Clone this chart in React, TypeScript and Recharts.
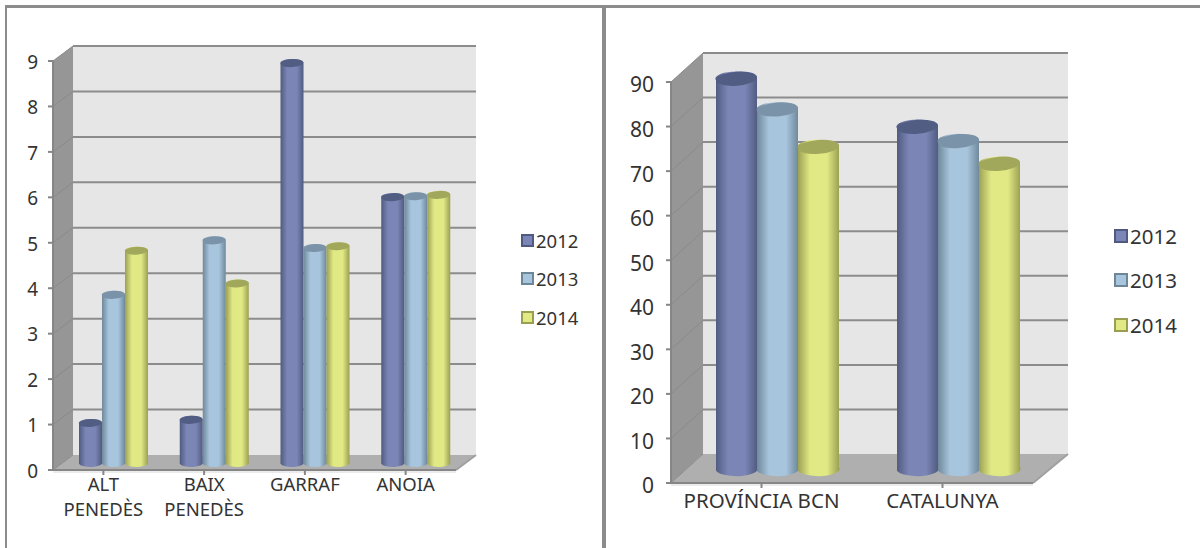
import React from "react";
import { BarChart, Bar, XAxis, YAxis, Customized } from "recharts";

const seriesNames = ["2012", "2013", "2014"];
const leftCategories = ["ALT\nPENEDÈS", "BAIX\nPENEDÈS", "GARRAF", "ANOIA"];
const left2012 = [0.88, 0.95, 8.8, 5.85];
const left2013 = [3.7, 4.9, 4.73, 5.87];
const left2014 = [4.67, 3.95, 4.77, 5.9];
const leftTicks = [0, 1, 2, 3, 4, 5, 6, 7, 8, 9];

const rightCategories = ["PROVÍNCIA BCN", "CATALUNYA"];
const right2012 = [87.6, 76.8];
const right2013 = [80.7, 73.6];
const right2014 = [72.3, 68.5];
const rightTicks = [0, 10, 20, 30, 40, 50, 60, 70, 80, 90];

const sideColors = ["#4f5a80", "#6d8798", "#999e50"];
const midColors = ["#7c86b6", "#a8c5de", "#e1e985"];
const topColors = ["#525d84", "#7b93a8", "#a1a75b"];
const FONT = "'Noto Sans', Tahoma, sans-serif";
const TEXT = "#333333";

function table(categories: string[], a: number[], b: number[], c: number[]) {
  return categories.map((name, i) => ({ name, "2012": a[i], "2013": b[i], "2014": c[i] }));
}

function Cylinder(props: any) {
  const { x, y, width, height, idx, pid, dx, dy, ry, tilt } = props;
  const left = x + dx;
  const right = left + width;
  const top = y - dy;
  const bottom = y + height - dy;
  const rx = width / 2;
  const t = rx * tilt;
  const d = `M${left},${top + t} L${left},${bottom + t} A${rx},${ry} 0 0 0 ${right},${bottom - t} L${right},${top - t} A${rx},${ry} 0 0 0 ${left},${top + t} Z`;
  const angle = (-Math.atan(tilt) * 180) / Math.PI;
  const cx = left + rx;
  return (
    <g>
      <path d={d} fill={`url(#${pid}-grad-${idx})`} />
      <ellipse cx={cx} cy={top} rx={rx} ry={ry} fill={topColors[idx]} transform={`rotate(${angle} ${cx} ${top})`} />
    </g>
  );
}

function Walls({ x0, x1, y0, y1, dx, dy, ext, ticks, scale }: any) {
  const gridY = (v: number) => y0 - (v / scale) * (y0 - y1);
  const xr = x1 + dx + ext;
  return (
    <g>
      <polygon points={`${x0 + dx},${y1 - dy} ${xr},${y1 - dy} ${xr},${y0 - dy} ${x0 + dx},${y0 - dy}`} fill="#e6e6e6" />
      <polygon points={`${x0},${y1} ${x0 + dx},${y1 - dy} ${x0 + dx},${y0 - dy} ${x0},${y0}`} fill="#969696" />
      <polygon points={`${x0},${y0} ${x1},${y0} ${xr},${y0 - dy} ${x0 + dx},${y0 - dy}`} fill="#afafaf" />
      {ticks.map((v: number) => {
        const yy = gridY(v);
        return (
          <g key={v}>
            <line x1={x0} y1={yy} x2={x0 + dx} y2={yy - dy} stroke="#8a8a8a" strokeWidth={1} />
            {v > 0 && <line x1={x0 + dx} y1={yy - dy} x2={xr} y2={yy - dy} stroke="#8c8c8c" strokeWidth={2} />}
          </g>
        );
      })}
      <line x1={x1} y1={y0} x2={xr} y2={y0 - dy} stroke="#a0a0a0" strokeWidth={2} />
      <line x1={x0} y1={y0 + 2} x2={x1} y2={y0 + 2} stroke="#d8d8d8" strokeWidth={1} />
    </g>
  );
}

function CategoryTick({ x, y, payload, size, lineHeight, offset }: any) {
  const lines = String(payload.value).split("\n");
  return (
    <text x={x} y={y + offset} textAnchor="middle" fontFamily={FONT} fontSize={size} fill={TEXT}>
      {lines.map((l: string, i: number) => (
        <tspan key={i} x={x} dy={i === 0 ? 0 : lineHeight}>{l}</tspan>
      ))}
    </text>
  );
}

function LegendBlock({ left, top, gap, size, box }: any) {
  return (
    <div style={{ position: "absolute", left, top, fontFamily: FONT, fontSize: size, color: TEXT }}>
      {seriesNames.map((n, i) => (
        <div key={n} style={{ position: "absolute", left: 0, top: i * gap, display: "flex", alignItems: "center", height: 24, whiteSpace: "nowrap" }}>
          <span style={{ width: box, height: box, boxSizing: "border-box", background: midColors[i], border: `2px solid ${sideColors[i]}`, marginRight: 2, display: "inline-block" }} />
          {n}
        </div>
      ))}
    </div>
  );
}

function Panel({ pid, left, width, height, plot, depth, barSize, shift, ry, tilt, data, ticks, max, tickSize, tickDy, tickGap, catSize, lineHeight, catOffset }: any) {
  const yAxisWidth = 45;
  const xAxisHeight = 40;
  const margin = {
    left: plot.x0 - yAxisWidth,
    right: width - plot.x1,
    top: plot.y1,
    bottom: height - plot.y0 - xAxisHeight,
  };
  return (
    <div style={{ position: "absolute", left, top: 0 }}>
      <BarChart width={width} height={height} data={data} margin={margin} barSize={barSize} barGap={0}>
        <defs>
          {seriesNames.map((_, i) => (
            <linearGradient key={i} id={`${pid}-grad-${i}`} x1="0" y1="0" x2="1" y2="0">
              <stop offset="0" stopColor={sideColors[i]} />
              <stop offset="0.3" stopColor={midColors[i]} />
              <stop offset="0.7" stopColor={midColors[i]} />
              <stop offset="1" stopColor={sideColors[i]} />
            </linearGradient>
          ))}
        </defs>
        <Customized component={<Walls {...plot} dx={depth.dx} dy={depth.dy} ext={depth.ext} ticks={ticks} scale={max} />} />
        <XAxis
          dataKey="name"
          interval={0}
          height={xAxisHeight}
          axisLine={{ stroke: "#868686", strokeWidth: 2 }}
          tickLine={{ stroke: "#868686", strokeWidth: 2 }}
          tickSize={5}
          tick={<CategoryTick size={catSize} lineHeight={lineHeight} offset={catOffset} />}
        />
        <YAxis
          type="number"
          domain={[0, max]}
          ticks={ticks}
          width={yAxisWidth}
          interval={0}
          axisLine={{ stroke: "#868686", strokeWidth: 2 }}
          tickLine={{ stroke: "#868686", strokeWidth: 2 }}
          tickSize={5}
          tickMargin={tickGap}
          tick={{ fontFamily: FONT, fontSize: tickSize, fill: TEXT, dy: tickDy }}
        />
        {seriesNames.map((n, i) => (
          <Bar
            key={n}
            dataKey={n}
            isAnimationActive={false}
            shape={(p: any) => <Cylinder {...p} idx={i} pid={pid} dx={shift.x} dy={shift.y} ry={ry} tilt={tilt} />}
          />
        ))}
      </BarChart>
    </div>
  );
}

export default function App() {
  return (
    <div style={{ position: "absolute", left: 0, top: 0, width: 1200, height: 548, overflow: "hidden", background: "#fff" }}>
      <Panel
        pid="l"
        left={0}
        width={600}
        height={548}
        plot={{ x0: 53, x1: 456, y0: 470, y1: 61 }}
        depth={{ dx: 20, dy: 15, ext: 0 }}
        shift={{ x: 10, y: 7 }}
        barSize={23}
        ry={4}
        tilt={0.06}
        data={table(leftCategories, left2012, left2013, left2014)}
        ticks={leftTicks}
        max={9}
        tickSize={19}
        tickDy={1}
        tickGap={10}
        catSize={18.5}
        lineHeight={25}
        catOffset={14}
      />
      <Panel
        pid="r"
        left={600}
        width={600}
        height={548}
        plot={{ x0: 71, x1: 433, y0: 483, y1: 82 }}
        depth={{ dx: 32, dy: 29, ext: 3 }}
        shift={{ x: 16, y: 14 }}
        barSize={41}
        ry={7}
        tilt={0.08}
        data={table(rightCategories, right2012, right2013, right2014)}
        ticks={rightTicks}
        max={90}
        tickSize={21}
        tickDy={3}
        tickGap={12}
        catSize={20.5}
        lineHeight={25}
        catOffset={18}
      />
      <LegendBlock left={521} top={228} gap={38.5} size={18.5} box={13} />
      <LegendBlock left={1114} top={223.5} gap={44.5} size={20.5} box={14} />
      <div style={{ position: "absolute", left: 6, top: 5, width: 1194, height: 3, background: "#8c8c8c" }} />
      <div style={{ position: "absolute", left: 5, top: 5, width: 2, height: 543, background: "#8c8c8c" }} />
      <div style={{ position: "absolute", left: 602, top: 5, width: 4, height: 543, background: "#8c8c8c" }} />
    </div>
  );
}
